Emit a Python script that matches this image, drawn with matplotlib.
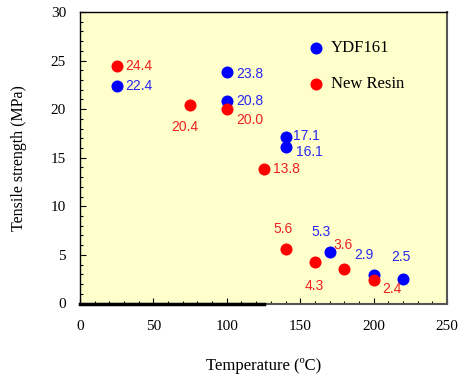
import matplotlib
matplotlib.use('Agg')
import matplotlib.pyplot as plt
from matplotlib.ticker import MultipleLocator

# YDF161 (blue)
ydf_temp = [25, 100, 100, 140, 140, 170, 200, 220]
ydf_strength = [22.4, 23.8, 20.8, 17.1, 16.1, 5.3, 2.9, 2.5]
ydf_labels = ['22.4', '23.8', '20.8', '17.1', '16.1', '5.3', '2.9', '2.5']

# New Resin (red)
new_temp = [25, 75, 100, 125, 140, 160, 180, 200]
new_strength = [24.4, 20.4, 20.0, 13.8, 5.6, 4.3, 3.6, 2.4]
new_labels = ['24.4', '20.4', '20.0', '13.8', '5.6', '4.3', '3.6', '2.4']

BLUE = '#0000ff'
RED = '#ff0000'
BLUE_TXT = '#2828f0'
RED_TXT = '#f02020'

# label offsets in pixels (dx, dy), with alignment
ydf_offs = [(9, 0, 'left'), (9, -2, 'left'), (9, 0, 'left'), (7, 1, 'left'),
            (10, -5, 'left'), (-8, 20, 'center'), (-10, 20, 'center'), (-2, 22, 'center')]
new_offs = [(9, 0, 'left'), (-5, -22, 'center'), (9, -11, 'left'), (9, 0, 'left'),
            (-2, 20, 'center'), (-1, -24, 'center'), (-1, 24, 'center'), (9, -9, 'left')]

plt.rcParams['font.family'] = ['Liberation Serif', 'DejaVu Serif']

fig = plt.figure(figsize=(4.64, 3.8), dpi=100)
ax = fig.add_axes([80 / 464, 1 - 303.5 / 380, 367 / 464, 291.5 / 380])
ax.set_facecolor('#ffffcc')

ax.scatter(ydf_temp, ydf_strength, s=75, color=BLUE, zorder=3, linewidths=0)
ax.scatter(new_temp, new_strength, s=75, color=RED, zorder=4, linewidths=0)

for x, y, t, (dx, dy, ha) in zip(ydf_temp, ydf_strength, ydf_labels, ydf_offs):
    ax.annotate(t, (x, y), xytext=(dx, dy), textcoords='offset pixels',
                ha=ha, va='center', color=BLUE_TXT, fontsize=10,
                family='Liberation Sans')
for x, y, t, (dx, dy, ha) in zip(new_temp, new_strength, new_labels, new_offs):
    ax.annotate(t, (x, y), xytext=(dx, dy), textcoords='offset pixels',
                ha=ha, va='center', color=RED_TXT, fontsize=10,
                family='Liberation Sans')

# legend drawn inside the plot
ax.scatter([161], [26.3], s=75, color=BLUE, linewidths=0)
ax.scatter([161], [22.6], s=75, color=RED, linewidths=0)
ax.text(171, 26.3, 'YDF161', va='center', ha='left', fontsize=12)
ax.text(171, 22.6, 'New Resin', va='center', ha='left', fontsize=12)

ax.set_xlim(0, 250)
ax.set_ylim(0, 30)
ax.xaxis.set_major_locator(MultipleLocator(50))
ax.xaxis.set_minor_locator(MultipleLocator(10))
ax.yaxis.set_major_locator(MultipleLocator(5))
ax.yaxis.set_minor_locator(MultipleLocator(1))
ax.tick_params(which='both', direction='in', top=False, right=False, labelsize=11)
ax.tick_params(which='major', length=4, width=0.8, pad=12)
ax.tick_params(which='minor', length=2, width=0.8)
ax.tick_params(axis='y', which='major', pad=10)

for side in ['left', 'top']:
    ax.spines[side].set_color('black')
    ax.spines[side].set_linewidth(1.0)
ax.spines['right'].set_color('#555555')
ax.spines['right'].set_linewidth(1.5)
ax.spines['bottom'].set_color('#555555')
ax.spines['bottom'].set_linewidth(1.5)
ax.plot([0, 125], [0, 0], color='black', lw=2.5, clip_on=False, zorder=5)

ax.set_xlabel('Temperature (\u00baC)', fontsize=12, labelpad=18)
ax.set_ylabel('Tensile strength (MPa)', fontsize=11.5, labelpad=17)

fig.savefig('out.png', dpi=100)
